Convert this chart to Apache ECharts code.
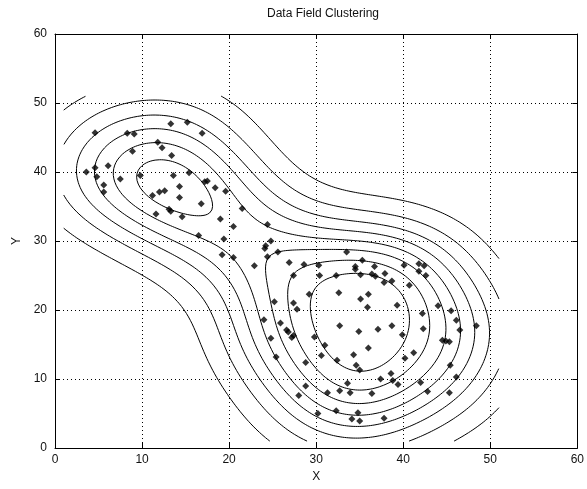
<!DOCTYPE html>
<html>
<head>
<meta charset="utf-8">
<script src="https://cdn.jsdelivr.net/npm/echarts@6/dist/echarts.min.js"></script>
<style>
  html, body { margin: 0; padding: 0; background: #fff; }
  #chart { width: 587px; height: 489px; }
</style>
</head>
<body>
<div id="chart"></div>
<script>
// Sample coordinates
const pointsX = [
  4.6, 8.3, 9.1, 13.3, 15.2, 16.9, 11.8, 12.3, 8.9, 13.4, 6.1, 3.6, 4.6, 4.8, 7.5, 9.8, 13.6, 15.4,
  5.6, 5.6, 17.2, 17.5, 11.2, 12.0, 12.6, 14.3, 14.3, 18.4, 19.6, 16.8, 13.1, 13.3, 11.6, 14.6,
  21.5, 19.0, 20.5, 16.5, 19.4, 24.4, 19.2, 20.5, 24.8, 24.2, 24.1, 24.4, 22.9,
  25.6, 26.9, 28.6, 30.3, 33.5, 35.3, 34.5, 34.5, 36.7, 40.1, 41.8, 42.4, 41.8, 42.6,
  27.4, 30.4, 32.3, 35.1, 36.4, 36.8, 37.9, 37.8, 38.7, 40.7, 29.2, 32.6, 36.0, 35.1,
  25.2, 27.4, 27.8, 35.9, 39.3, 44.0, 45.5, 42.2, 24.0, 25.9, 32.7, 38.7, 46.1, 48.4,
  37.1, 42.3, 34.9, 46.5, 26.6, 26.8, 27.4, 27.2, 29.8, 24.8, 39.9, 44.5, 44.9, 45.3,
  31.0, 36.0, 30.6, 25.4, 32.4, 34.3, 41.2, 40.2, 28.8, 45.4, 34.6, 35.0, 38.6, 46.1,
  37.4, 38.8, 33.6, 39.4, 42.0, 28.8, 32.7, 33.9, 31.3, 36.4, 42.8, 45.3, 28.0,
  30.2, 32.3, 34.8, 37.8, 34.1, 35.0
];
const pointsY = [
  45.7, 45.6, 45.5, 47.0, 47.2, 45.6, 44.3, 43.5, 43.0, 42.4, 40.9, 40.0, 40.6, 39.3, 39.0, 39.5, 39.5, 39.9,
  38.1, 37.1, 38.6, 38.7, 36.6, 37.1, 37.3, 37.9, 36.3, 37.7, 37.2, 35.4, 34.6, 34.3, 33.9, 33.5,
  34.7, 33.2, 32.1, 30.8, 30.3, 32.4, 28.0, 27.6, 30.0, 29.3, 28.9, 27.7, 26.4,
  28.4, 26.9, 26.6, 26.5, 28.4, 27.2, 26.3, 25.9, 26.3, 26.5, 26.7, 26.4, 25.6, 25.0,
  25.0, 25.0, 25.0, 25.1, 25.2, 24.9, 25.3, 24.0, 24.2, 23.6, 22.3, 22.5, 22.3, 21.6,
  21.2, 21.0, 20.1, 20.4, 20.7, 20.6, 19.9, 19.5, 18.6, 18.1, 17.7, 17.7, 18.5, 17.7,
  17.2, 17.3, 16.9, 17.1, 17.1, 16.8, 16.3, 16.0, 16.1, 15.9, 16.4, 15.6, 15.5, 15.4,
  14.9, 14.5, 13.4, 13.2, 12.7, 13.5, 13.8, 13.0, 12.4, 12.0, 12.0, 11.3, 10.8, 10.3,
  10.0, 9.8, 9.4, 9.2, 9.5, 9.0, 8.3, 8.0, 8.0, 7.9, 8.2, 8.0, 7.6,
  5.0, 5.4, 5.1, 4.3, 4.2, 3.9
];
const xTickLabels = ['0', '10', '20', '30', '40', '50', '60'];
const yTickLabels = ['0', '10', '20', '30', '40', '50', '60'];

// Data field settings
const fieldRange = [1, 51];
const fieldStep = 0.25;
const sigma = 8;
const levelCount = 8;

// Potential of the data field on a regular mesh
function buildField() {
  const n = Math.round((fieldRange[1] - fieldRange[0]) / fieldStep) + 1;
  const f = new Float64Array(n * n);
  const s2 = sigma * sigma;
  for (let j = 0; j < n; j++) {
    const y = fieldRange[0] + j * fieldStep;
    for (let i = 0; i < n; i++) {
      const x = fieldRange[0] + i * fieldStep;
      let v = 0;
      for (let k = 0; k < pointsX.length; k++) {
        const dx = x - pointsX[k], dy = y - pointsY[k];
        v += Math.exp(-(dx * dx + dy * dy) / s2);
      }
      f[j * n + i] = v;
    }
  }
  return { n, f };
}

// Marching squares, segments chained into polylines
function isoLines(field, level) {
  const { n, f } = field;
  const val = (i, j) => f[j * n + i];
  const H = (i, j) => (j * n + i) * 2;
  const V = (i, j) => (j * n + i) * 2 + 1;
  const pos = {};
  function edgePoint(id) {
    if (pos[id]) return pos[id];
    const cell = id >> 1, i = cell % n, j = (cell - i) / n;
    let p;
    if ((id & 1) === 0) {
      const a = val(i, j), b = val(i + 1, j), t = (level - a) / (b - a);
      p = [fieldRange[0] + (i + t) * fieldStep, fieldRange[0] + j * fieldStep];
    } else {
      const a = val(i, j), b = val(i, j + 1), t = (level - a) / (b - a);
      p = [fieldRange[0] + i * fieldStep, fieldRange[0] + (j + t) * fieldStep];
    }
    pos[id] = p;
    return p;
  }
  const segs = [];
  for (let j = 0; j < n - 1; j++) {
    for (let i = 0; i < n - 1; i++) {
      const v0 = val(i, j), v1 = val(i + 1, j), v2 = val(i + 1, j + 1), v3 = val(i, j + 1);
      const c = (v0 > level ? 1 : 0) | (v1 > level ? 2 : 0) | (v2 > level ? 4 : 0) | (v3 > level ? 8 : 0);
      if (c === 0 || c === 15) continue;
      const e0 = H(i, j), e1 = V(i + 1, j), e2 = H(i, j + 1), e3 = V(i, j);
      const mid = (v0 + v1 + v2 + v3) / 4 > level;
      switch (c) {
        case 1: case 14: segs.push([e3, e0]); break;
        case 2: case 13: segs.push([e0, e1]); break;
        case 3: case 12: segs.push([e3, e1]); break;
        case 4: case 11: segs.push([e1, e2]); break;
        case 6: case 9: segs.push([e0, e2]); break;
        case 7: case 8: segs.push([e3, e2]); break;
        case 5:
          if (mid) { segs.push([e0, e1]); segs.push([e2, e3]); }
          else { segs.push([e3, e0]); segs.push([e1, e2]); }
          break;
        case 10:
          if (mid) { segs.push([e3, e0]); segs.push([e1, e2]); }
          else { segs.push([e0, e1]); segs.push([e2, e3]); }
          break;
      }
    }
  }
  const adj = new Map();
  segs.forEach((s, k) => {
    [0, 1].forEach(e => {
      if (!adj.has(s[e])) adj.set(s[e], []);
      adj.get(s[e]).push(k);
    });
  });
  const used = new Uint8Array(segs.length);
  const lines = [];
  function walk(startEdge, startSeg) {
    const ids = [startEdge];
    let edge = startEdge, seg = startSeg;
    while (seg !== undefined && !used[seg]) {
      used[seg] = 1;
      const s = segs[seg];
      const next = s[0] === edge ? s[1] : s[0];
      ids.push(next);
      edge = next;
      seg = (adj.get(edge) || []).find(k => !used[k]);
    }
    return ids.map(edgePoint);
  }
  adj.forEach((list, edge) => {
    if (list.length === 1 && !used[list[0]]) lines.push(walk(edge, list[0]));
  });
  segs.forEach((s, k) => {
    if (!used[k]) lines.push(walk(s[0], k));
  });
  return lines;
}

const field = buildField();
let fMin = Infinity, fMax = -Infinity;
for (const v of field.f) { if (v < fMin) fMin = v; if (v > fMax) fMax = v; }
// Evenly spaced levels strictly between the field's minimum and maximum
const levels = [];
for (let k = 1; k <= levelCount; k++) levels.push(fMin + (fMax - fMin) * k / (levelCount + 1));

const contourSeries = [];
levels.forEach(L => {
  isoLines(field, L).forEach(pts => {
    contourSeries.push({
      type: 'line', data: pts, symbol: 'none', silent: true,
      lineStyle: { color: '#000', width: 1 }, z: 2
    });
  });
});

const axisFont = { fontFamily: 'Liberation Sans, Arial, sans-serif', fontSize: 12, color: '#111' };
const chart = echarts.init(document.getElementById('chart'), null, { renderer: 'canvas' });
chart.setOption({
  animation: false,
  backgroundColor: '#fff',
  title: {
    text: 'Data Field Clustering', left: 318, top: 3, textAlign: 'center',
    textStyle: { ...axisFont, fontWeight: 'normal', fontSize: 12 }
  },
  grid: { left: 55, top: 34, width: 526, height: 414 },
  xAxis: [{
    type: 'value', min: 0, max: 60, interval: 10,
    name: 'X', nameLocation: 'middle', nameGap: 22, nameTextStyle: axisFont,
    axisLine: { lineStyle: { color: '#000' } },
    axisTick: { inside: true, length: 5, lineStyle: { color: '#000' } },
    axisLabel: { ...axisFont, margin: 6, formatter: (v) => xTickLabels[v / 10] },
    splitLine: { show: true, lineStyle: { color: '#000', type: [1, 3], width: 1 } }
  }, {
    type: 'value', min: 0, max: 60, interval: 10, position: 'top',
    axisLine: { onZero: false, lineStyle: { color: '#000' } },
    axisTick: { inside: true, length: 5, lineStyle: { color: '#000' } },
    axisLabel: { show: false }, splitLine: { show: false }
  }],
  yAxis: [{
    type: 'value', min: 0, max: 60, interval: 10,
    name: 'Y', nameLocation: 'middle', nameGap: 30, nameTextStyle: axisFont,
    axisLine: { lineStyle: { color: '#000' } },
    axisTick: { inside: true, length: 5, lineStyle: { color: '#000' } },
    axisLabel: { ...axisFont, margin: 8, formatter: (v) => yTickLabels[v / 10] },
    splitLine: { show: true, lineStyle: { color: '#000', type: [1, 3], width: 1 } }
  }, {
    type: 'value', min: 0, max: 60, interval: 10, position: 'right',
    axisLine: { onZero: false, lineStyle: { color: '#000' } },
    axisTick: { inside: true, length: 5, lineStyle: { color: '#000' } },
    axisLabel: { show: false }, splitLine: { show: false }
  }],
  series: contourSeries.concat([{
    type: 'scatter', symbol: 'diamond', symbolSize: 7, z: 5,
    itemStyle: { color: '#000' },
    data: pointsX.map((x, k) => [x, pointsY[k]])
  }])
});
</script>
</body>
</html>
